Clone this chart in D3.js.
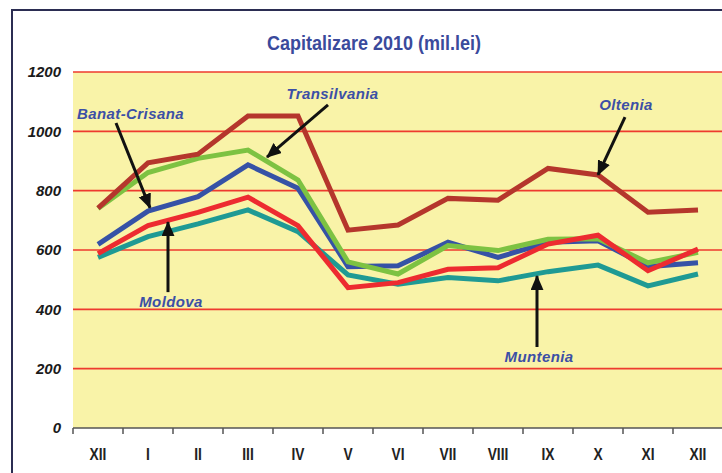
<!DOCTYPE html>
<html><head><meta charset="utf-8">
<script src="https://cdn.jsdelivr.net/npm/d3@7"></script>
<style>
html,body{margin:0;padding:0;background:#fff;}
svg{display:block;}
</style></head>
<body>
<svg id="chart" width="722" height="473"></svg>
<script>
// ---- data ----
const months = ["XII","I","II","III","IV","V","VI","VII","VIII","IX","X","XI","XII"];
const yTicks = [0,200,400,600,800,1000,1200];
const muntenia     = [575,645,688,735,662,516,485,507,496,527,549,479,519];
const banatCrisana = [619,731,780,887,808,544,547,626,575,626,631,544,557];
const transilvania = [740,861,909,937,836,560,519,615,598,636,638,557,592];
const moldova      = [588,682,727,778,682,473,490,535,540,620,650,530,603];
const oltenia      = [741,894,923,1052,1052,667,684,774,768,875,853,727,735];
const seriesNames  = ["Muntenia","Banat-Crisana","Transilvania","Moldova","Oltenia"];
const seriesColors = ["#1f9a94","#3652a6","#7dc242","#ed2b30","#b5362c"];
const seriesValues = [muntenia,banatCrisana,transilvania,moldova,oltenia];
// annotations: label position and arrow (tail -> tip) in data coords (month index, value)
const annotations = [
  {text:"Banat-Crisana", lx:0.65, lv:1042, tx:0.36, tv:1028, hx:1.04, hv:742},
  {text:"Transilvania",  lx:4.69, lv:1109, tx:4.60, tv:1089, hx:3.38, hv:913},
  {text:"Oltenia",       lx:10.56,lv:1072, tx:10.54,tv:1048, hx:10.0, hv:853},
  {text:"Moldova",       lx:1.46, lv:408,  tx:1.40, tv:458,  hx:1.40, hv:694},
  {text:"Muntenia",      lx:8.82, lv:222,  tx:8.78, tv:273,  hx:8.78, hv:512}
];

const svg = d3.select("#chart");
const W = 722, H = 473;
const pLeft = 73, pRight = 723, pTop = 72, pBottom = 428;

const x = d3.scaleBand().domain(d3.range(months.length)).range([pLeft,pRight]);
const y = d3.scaleLinear().domain([0,1200]).range([pBottom,pTop]);
const xc = i => x(0) + x.bandwidth()*(i+0.5);

// frame
svg.append("rect").attr("x",0).attr("y",0).attr("width",W).attr("height",H).attr("fill","#fff");
svg.append("line").attr("x1",11).attr("x2",W).attr("y1",10).attr("y2",10)
  .attr("stroke","#2b2d52").attr("stroke-width",2);
svg.append("line").attr("x1",12).attr("x2",12).attr("y1",10).attr("y2",H)
  .attr("stroke","#2b2d52").attr("stroke-width",2);

// plot background
svg.append("rect").attr("x",pLeft).attr("y",pTop).attr("width",pRight-pLeft).attr("height",pBottom-pTop)
  .attr("fill","#f9f3a8");

// gridlines
svg.append("g").selectAll("line").data(yTicks.filter(d=>d>0)).join("line")
  .attr("x1",pLeft).attr("x2",W).attr("y1",d=>y(d)).attr("y2",d=>y(d))
  .attr("stroke","#ee3a2e").attr("stroke-width",1.6);

// y labels
svg.append("g").selectAll("text").data(yTicks).join("text")
  .attr("x",61).attr("y",d=>y(d)).attr("dy","0.36em")
  .attr("text-anchor","end")
  .style("font-family","'Liberation Sans',Arial,sans-serif")
  .style("font-weight","bold").style("font-style","italic").style("font-size","15px")
  .attr("fill","#1a1a1a").text(d=>d);

// x axis
const xAxis = d3.axisBottom(x).tickSize(0).tickPadding(0).tickFormat(i=>months[i]);
const gx = svg.append("g").attr("transform",`translate(0,${pBottom})`).call(xAxis);
gx.select(".domain").remove();
gx.selectAll("text").attr("y",32).attr("dy",0).attr("transform","scale(0.86,1)")
  .style("font-family","'Liberation Sans',Arial,sans-serif")
  .style("font-weight","bold").style("font-size","16px").attr("fill","#222");
svg.append("line").attr("x1",pLeft).attr("x2",W).attr("y1",pBottom).attr("y2",pBottom)
  .attr("stroke","#555").attr("stroke-width",1.5);
svg.append("g").selectAll("line").data(d3.range(months.length)).join("line")
  .attr("x1",i=>x(i)).attr("x2",i=>x(i)).attr("y1",pBottom).attr("y2",pBottom+6)
  .attr("stroke","#555").attr("stroke-width",1.5);

// lines
const line = d3.line().x((d,i)=>xc(i)).y(d=>y(d));
svg.append("g").selectAll("path").data(seriesValues).join("path")
  .attr("d",d=>line(d)).attr("fill","none")
  .attr("stroke",(d,i)=>seriesColors[i]).attr("stroke-width",5)
  .attr("stroke-linejoin","miter").attr("stroke-miterlimit",3);

// arrow marker
svg.append("defs").append("marker").attr("id","ah")
  .attr("markerUnits","userSpaceOnUse").attr("markerWidth",16).attr("markerHeight",14)
  .attr("refX",14).attr("refY",6.5).attr("orient","auto")
  .append("path").attr("d","M0,0 L15,6.5 L0,13 Z").attr("fill","#111");

const ag = svg.append("g");
ag.selectAll("line").data(annotations).join("line")
  .attr("x1",d=>xc(d.tx)).attr("y1",d=>y(d.tv))
  .attr("x2",d=>xc(d.hx)).attr("y2",d=>y(d.hv))
  .attr("stroke","#111").attr("stroke-width",3).attr("marker-end","url(#ah)");
ag.selectAll("text").data(annotations).join("text")
  .attr("x",d=>xc(d.lx)).attr("y",d=>y(d.lv)).attr("text-anchor","middle")
  .style("font-family","'Liberation Sans',Arial,sans-serif")
  .style("font-weight","bold").style("font-style","italic").style("font-size","15px")
  .style("letter-spacing","0.4px")
  .attr("fill","#3c4fa6").text(d=>d.text);

// title
svg.append("text").attr("x",374).attr("y",50).attr("text-anchor","middle")
  .attr("textLength",214).attr("lengthAdjust","spacingAndGlyphs")
  .style("font-family","'Liberation Sans',Arial,sans-serif")
  .style("font-weight","bold").style("font-size","21px")
  .attr("fill","#3a4a9c").text("Capitalizare 2010 (mil.lei)");
</script>
</body></html>
